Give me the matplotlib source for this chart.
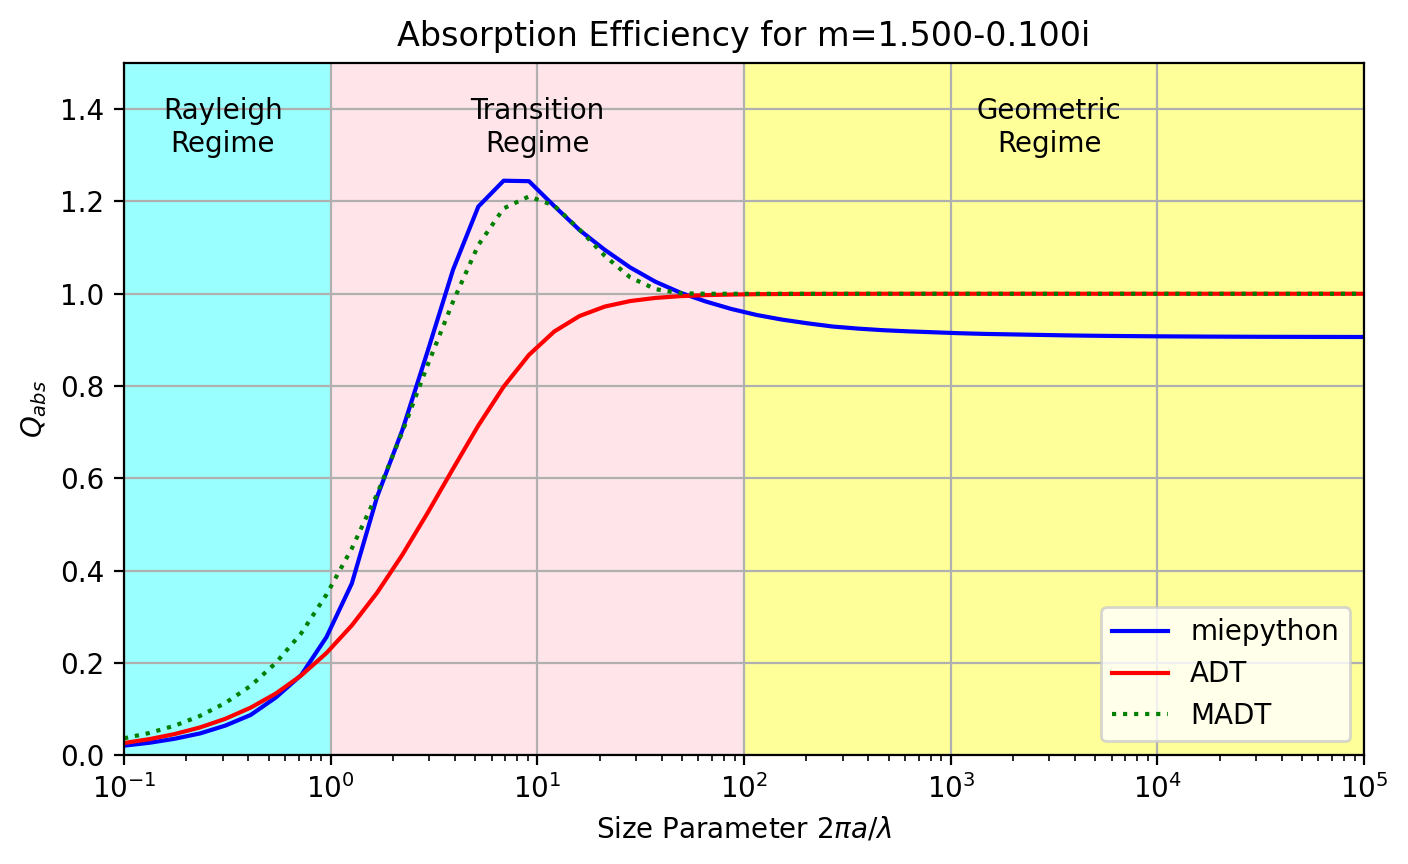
import numpy as np
import matplotlib
matplotlib.use('Agg')
import matplotlib.pyplot as plt

# size parameter grid (50 log-spaced points, 0.1 .. 1e5)
x = [0.1, 0.1326, 0.1758, 0.2330, 0.3089, 0.4095, 0.5429, 0.7197, 0.9541, 1.265,
     1.677, 2.223, 2.947, 3.907, 5.179, 6.866, 9.103, 12.07, 16.00, 21.21,
     28.12, 37.28, 49.42, 65.51, 86.85, 115.1, 152.6, 202.4, 268.3, 355.6,
     471.5, 625.1, 828.6, 1099, 1456, 1931, 2560, 3393, 4498, 5964,
     7906, 10480, 13890, 18420, 24420, 32370, 42920, 56900, 75430, 100000]

# Q_abs
qabs_mie = [0.0205, 0.0268, 0.0355, 0.0470, 0.0640, 0.0870, 0.1250, 0.1735, 0.2560, 0.372,
            0.560, 0.705, 0.876, 1.052, 1.189, 1.245, 1.244, 1.190, 1.138, 1.095,
            1.057, 1.026, 1.002, 0.983, 0.967, 0.954, 0.944, 0.936, 0.929, 0.9245,
            0.921, 0.9185, 0.9165, 0.9145, 0.913, 0.912, 0.911, 0.9100, 0.9092, 0.9086,
            0.9081, 0.9077, 0.9074, 0.9071, 0.9069, 0.9067, 0.9066, 0.9065, 0.9064, 0.9063]

qabs_adt = [0.0263, 0.0347, 0.0457, 0.0600, 0.0787, 0.1028, 0.1336, 0.1727, 0.2214, 0.2811,
            0.3521, 0.4345, 0.5255, 0.6208, 0.7144, 0.7986, 0.8675, 0.9182, 0.9518, 0.9723,
            0.9842, 0.9910, 0.9949, 0.9971, 0.9983, 0.9991, 0.9995, 0.9997, 0.9998, 0.9999,
            1.0, 1.0, 1.0, 1.0, 1.0, 1.0, 1.0, 1.0, 1.0, 1.0,
            1.0, 1.0, 1.0, 1.0, 1.0, 1.0, 1.0, 1.0, 1.0, 1.0]

qabs_madt = [0.0365, 0.0480, 0.0638, 0.0850, 0.1130, 0.1500, 0.2000, 0.2640, 0.3480, 0.448,
             0.566, 0.701, 0.846, 0.983, 1.1056, 1.185, 1.211, 1.191, 1.139, 1.082,
             1.0355, 1.010, 1.001, 1.0, 1.0, 1.0, 1.0, 1.0, 1.0, 1.0,
             1.0, 1.0, 1.0, 1.0, 1.0, 1.0, 1.0, 1.0, 1.0, 1.0,
             1.0, 1.0, 1.0, 1.0, 1.0, 1.0, 1.0, 1.0, 1.0, 1.0]

regimes = ['Rayleigh\nRegime', 'Transition\nRegime', 'Geometric\nRegime']
regime_edges = [0.1, 1, 100, 1e5]
regime_label_x = [0.3, 10, 3000]
regime_colors = ['aqua', 'pink', 'yellow']

fig, ax = plt.subplots(figsize=(7.04, 4.32), dpi=200)
fig.subplots_adjust(left=0.0881, right=0.9688, top=0.927, bottom=0.126)

for i in range(3):
    ax.axvspan(regime_edges[i], regime_edges[i + 1], color=regime_colors[i], alpha=0.4, lw=0)
    ax.text(regime_label_x[i], 1.36, regimes[i], ha='center', va='center')

ax.plot(x, qabs_mie, color='blue', label='miepython')
ax.plot(x, qabs_adt, color='red', label='ADT')
ax.plot(x, qabs_madt, ':', color='green', label='MADT')

ax.set_xscale('log')
ax.set_xlim(0.1, 1e5)
ax.set_ylim(0, 1.5)
ax.set_xlabel(r'Size Parameter $2\pi a/\lambda$')
ax.set_ylabel(r'$Q_{abs}$')
ax.set_title('Absorption Efficiency for m=1.500-0.100i')
ax.grid(True)
ax.legend(loc='lower right')

fig.savefig('out.png', dpi=200)
